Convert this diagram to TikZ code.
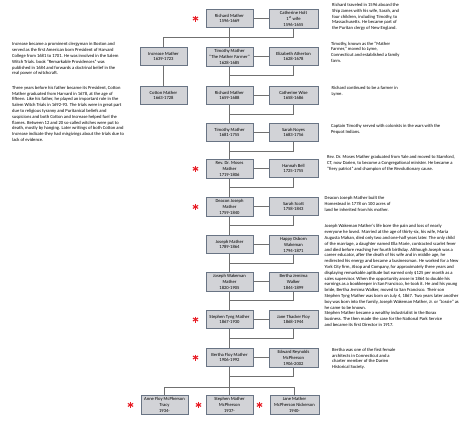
\documentclass[tikz,border=0pt]{standalone}
\usepackage{fontspec}
\setmainfont{Carlito}
\usetikzlibrary{positioning}

\definecolor{boxfill}{RGB}{210,211,215}
\definecolor{boxline}{RGB}{105,116,132}
\definecolor{linkgray}{RGB}{112,112,112}
\definecolor{starred}{RGB}{232,28,36}

\begin{document}
\begin{tikzpicture}[x=1pt, y=-1pt,
    person/.style={rectangle, draw=boxline, fill=boxfill, line width=1pt, align=center, minimum width=47pt, minimum height=18pt, inner xsep=1pt, inner ysep=2pt, anchor=north, font=\fontsize{4.6}{5.8}\selectfont},
    spouse/.style={person, minimum width=49pt},
    note/.style={align=left, anchor=north west, inner sep=0pt, font=\fontsize{4.6}{5.8}\selectfont},
    link/.style={draw=linkgray, line width=1pt},
    starmark/.pic={\foreach \a in {90,30,150} \draw[starred, line width=1.1pt] (\a:3pt) -- (\a+180:3pt);}]

    \useasboundingbox (0,0) rectangle (474,423);

    % Mather line and spouses
    \node [person] (richard1) at (229.5,9) {Richard Mather\\1596-1669};
    \node [spouse, right=15pt of richard1.north east, anchor=north west] (holt) {Catherine Holt\\1\textsuperscript{st} wife\\1596-1655};

    \node [person] (timothy1) at (229.5,47) {Timothy Mather\\“The Mather Farmer”\\1628-1685};
    \node [spouse, right=15pt of timothy1.north east, anchor=north west] (atherton) {Elizabeth Atherton\\1628-1678};
    \node [person, left=18pt of timothy1.north west, anchor=north east] (increase) {Increase Mather\\1639-1723};

    \node [person] (richard2) at (229.5,86) {Richard Mather\\1659-1688};
    \node [spouse, right=15pt of richard2.north east, anchor=north west] (wise) {Catherine Wise\\1658-1686};
    \node [person, left=18pt of richard2.north west, anchor=north east] (cotton) {Cotton Mather\\1663-1728};

    \node [person] (timothy2) at (229.5,123) {Timothy Mather\\1681-1755};
    \node [spouse, right=15pt of timothy2.north east, anchor=north west] (noyes) {Sarah Noyes\\1683-1756};

    \node [person] (moses) at (229.5,159) {Rev. Dr. Moses\\Mather\\1719-1806};
    \node [spouse, right=15pt of moses.north east, anchor=north west] (bell) {Hannah Bell\\1725-1755};

    \node [person] (deacon) at (229.5,197) {Deacon Joseph\\Mather\\1759-1840};
    \node [spouse, right=15pt of deacon.north east, anchor=north west] (scott) {Sarah Scott\\1758-1843};

    \node [person] (joseph) at (229.5,235) {Joseph Mather\\1789-1864};
    \node [spouse, right=15pt of joseph.north east, anchor=north west] (wakeman) {Happy Osborn\\Wakeman\\1794-1871};

    \node [person] (josephw) at (229.5,272) {Joseph Wakeman\\Mather\\1820-1905};
    \node [spouse, right=15pt of josephw.north east, anchor=north west] (walker) {Bertha Jemima\\Walker\\1844-1899};

    \node [person] (stephen) at (229.5,310) {Stephen Tyng Mather\\1867-1930};
    \node [spouse, right=15pt of stephen.north east, anchor=north west] (floy) {Jane Thacker Floy\\1868-1944};

    \node [person] (bertha) at (229.5,348) {Bertha Floy Mather\\1906-1992};
    \node [spouse, right=15pt of bertha.north east, anchor=north west] (edward) {Edward Reynolds\\McPherson\\1906-2002};

    % children
    \node [person] (stephenmc) at (229.5,395) {Stephen Mather\\McPherson\\1937-};
    \node [person, left=17pt of stephenmc.north west, anchor=north east] (anne) {Anne Floy McPherson\\Tracy\\1934-};
    \node [spouse, right=16pt of stephenmc.north east, anchor=north west] (janemc) {Jane Mather\\McPherson Nickerson\\1940-};

    % connectors
    \foreach \m/\s in {richard1/holt, timothy1/atherton, richard2/wise, timothy2/noyes, moses/bell, deacon/scott, joseph/wakeman, josephw/walker, stephen/floy, bertha/edward}
        \path [link] (\m.east) -- (\m.east -| \s.west);
    \foreach \m/\s in {timothy1/atherton, richard2/wise, timothy2/noyes, moses/bell, deacon/scott, joseph/wakeman, josephw/walker, stephen/floy, bertha/edward}
        \path [link] (\s.south) -- ++(0,9) -| (\m.south);
    \foreach \a/\b in {richard1/timothy1, timothy1/richard2, richard2/timothy2, timothy2/moses, moses/deacon, deacon/joseph, joseph/josephw, josephw/stephen, stephen/bertha, bertha/stephenmc, increase/cotton}
        \path [link] (\a) -- (\b);
    \path [link] (holt.south) -- ++(0,9) -| (increase.north);
    \path [link] (anne.north) -- ++(0,-8) -| (janemc.north);

    % red marks
    \foreach \n in {richard1, moses, deacon, stephen, bertha, anne, janemc}
        \pic at ([xshift=-10pt]\n.west) {starmark};
    \pic at ([xshift=-7pt]stephenmc.west) {starmark};

    % notes
    \node [note] (increasenote) at (12,42.5) {Increase became a prominent clergyman in Boston and\\served as the first American born President of Harvard\\College from 1681 to 1701.  He was involved in the Salem\\Witch Trials.  book “Remarkable Providences” was\\published in 1684 and forwards a doctrinal belief in the\\real power of witchcraft.};
    \node [note] (cottonnote) at (12,86) {Three years before his father became its President, Cotton\\Mather graduated from Harvard in 1678, at the age of\\fifteen.   Like his father, he played an important role in the\\Salem Witch Trials in 1692-93.  The trials were in great part\\due to religious tyranny and Puritanical beliefs and\\suspicions and both Cotton and Increase helped fuel the\\flames.  Between 12 and 20 so-called witches were put to\\death, mostly by hanging.  Later writings of both Cotton and\\Increase indicate they had misgivings about the trials due to\\lack of evidence.};
    \node [note] (richardnote) at (332,3.2) {Richard traveled in 1596 aboard the\\Ship James with his wife, Sarah, and\\four children, including Timothy, to\\Massachusetts.  He became part of\\the Puritan clergy of New England.};
    \node [note] (timothynote) at (331,41.5) {Timothy, known as the “Mather\\Farmer,” moved to Lyme,\\Connecticut and established a family\\farm.};
    \node [note] (richard2note) at (331.5,86.5) {Richard continued to be a farmer in\\Lyme.};
    \node [note] (timothy2note) at (331,124.5) {Captain Timothy served with colonists in the wars with the\\Pequot Indians.};
    \node [note] (mosesnote) at (327,155.5) {Rev. Dr. Moses Mather graduated from Yale and moved to Stamford,\\CT, now Darien, to become a Congregational minister.  He became a\\“fiery patriot” and champion of the Revolutionary cause.};
    \node [note] (deaconnote) at (324.5,196.5) {Deacon Joseph Mather built the\\Homestead in 1778 on 100 acres of\\land he inherited from his mother.};
    \node [note] (josephwnote) at (324.5,224.5) {Joseph Wakeman Mather’s life bore the pain and loss of nearly\\everyone he loved. Married at the age of thirty-six, his wife, Maria\\Augusta Mahan, died only two and one-half years later. The only child\\of the marriage, a daughter named Ella Marie, contracted scarlet fever\\and died before reaching her fourth birthday. Although Joseph was a\\career educator, after the death of his wife and in middle age, he\\redirected his energy and became a businessman. He worked for a New\\York City firm, Alsop and Company, for approximately three years and\\displaying remarkable aptitude but earned only \$125 per month as a\\sales supervisor. When the opportunity arose in 1864 to double his\\earnings as a bookkeeper in San Francisco, he took it. He and his young\\bride, Bertha Jemima Walker,  moved to San Francisco. Their son\\Stephen Tyng Mather was born on July 4, 1867. Two years later another\\boy was born into the family, Joseph Wakeman Mather, Jr. or “Jossie” as\\he came to be known.};
    \node [note] (stephennote) at (324.5,311.5) {Stephen Mather became a wealthy industrialist in the Borax\\business.  The then made the case for the National Park Service\\and became its first Director in 1917.};
    \node [note] (berthanote) at (332,348) {Bertha was one of the first female\\architects in Connecticut and a\\charter member of the Darien\\Historical Society.};
\end{tikzpicture}
\end{document}
